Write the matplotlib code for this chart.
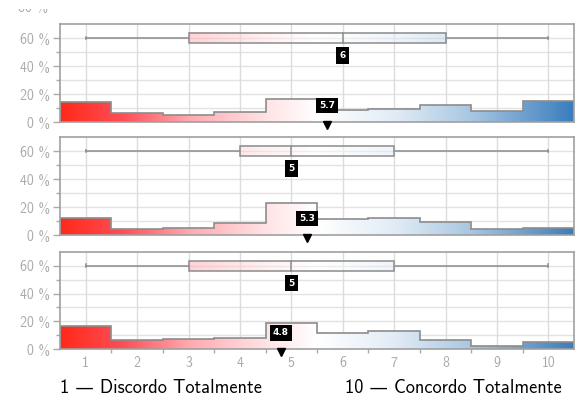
import numpy as np
import matplotlib
matplotlib.use("Agg")
import matplotlib.pyplot as plt
from matplotlib.colors import LinearSegmentedColormap
from matplotlib.patches import Rectangle

plt.rcParams['font.family'] = ['cmss10', 'DejaVu Sans']

# escala 1..10
categorias = [1, 2, 3, 4, 5, 6, 7, 8, 9, 10]

# distribuicao (%) de cada pergunta
hist_1 = [14.5, 6.4, 5.0, 6.9, 16.4, 8.6, 9.3, 12.4, 7.9, 14.8]
hist_2 = [11.9, 4.3, 5.2, 8.3, 22.9, 11.2, 11.9, 9.3, 4.3, 5.2]
hist_3 = [16.6, 6.4, 7.1, 8.1, 18.6, 11.9, 12.9, 6.4, 2.1, 5.0]

# boxplot: min, q1, mediana, q3, max
box_1 = [1, 3, 6, 8, 10]
box_2 = [1, 4, 5, 7, 10]
box_3 = [1, 3, 5, 7, 10]

medias = [5.7, 5.3, 4.8]

label_esq = "1 \u2014 Discordo Totalmente"
label_dir = "10 \u2014 Concordo Totalmente"

cmap = LinearSegmentedColormap.from_list("rdwb", [
    (0.0, '#ff2a1a'), (0.12, '#ff4d55'), (0.25, '#ffa9b0'), (0.4, '#ffe3e5'),
    (0.5, '#ffffff'), (0.65, '#e2ecf6'), (0.8, '#a9c7e2'), (1.0, '#3a7dbd')])

EDGE = '#8c8c8c'
TICK = '#aaaaaa'

fig = plt.figure(figsize=(5.85, 4.05), dpi=100)
left, width = 60 / 585, 514 / 585
panels = [(24, 122), (137, 235), (252, 349)]

x0, x1 = categorias[0] - 0.5, categorias[-1] + 0.5
edges = np.arange(x0, x1 + 0.01, 1.0)
grad = np.linspace(0, 1, 256).reshape(1, -1)

dados = [(hist_1, box_1), (hist_2, box_2), (hist_3, box_3)]
for i, ((top, bot), (hist, box), media) in enumerate(zip(panels, dados, medias)):
    ax = fig.add_axes([left, 1 - bot / 405, width, (bot - top) / 405])
    ax.set_xlim(x0, x1)
    ax.set_ylim(0, 70)

    # grade
    ax.set_yticks([0, 20, 40, 60])
    ax.set_yticks([10, 30, 50], minor=True)
    ax.set_yticklabels([f"{v} %" for v in [0, 20, 40, 60]])
    ax.set_xticks(categorias)
    ax.set_xticks(edges[1:-1], minor=True)
    for v in range(10, 70, 10):
        ax.axhline(v, color='#e3e3e3', lw=1, zorder=0)
    for c in categorias:
        ax.axvline(c, color='#dcdcdc', lw=1, zorder=0)

    # histograma com gradiente
    step = ax.stairs(hist, edges, fill=True, facecolor='none', edgecolor='none')
    im = ax.imshow(grad, cmap=cmap, extent=(x0, x1, 0, 70), aspect='auto',
                   origin='lower', zorder=1)
    im.set_clip_path(step)
    ax.stairs(hist, edges, color=EDGE, lw=1.2, zorder=2)

    # boxplot
    mn, q1, med, q3, mx = box
    yb, hb = 60, 3.6
    ax.plot([mn, q1], [yb, yb], color=EDGE, lw=1.1, zorder=3)
    ax.plot([q3, mx], [yb, yb], color=EDGE, lw=1.1, zorder=3)
    ax.plot([mn, mn], [yb - 1, yb + 1], color=EDGE, lw=1.1, zorder=3)
    ax.plot([mx, mx], [yb - 1, yb + 1], color=EDGE, lw=1.1, zorder=3)
    f0, f1 = (q1 - x0) / (x1 - x0), (q3 - x0) / (x1 - x0)
    gbox = np.linspace(f0, f1, 128).reshape(1, -1)
    ax.imshow(gbox, cmap=cmap, vmin=0, vmax=1, extent=(q1, q3, yb - hb, yb + hb),
              aspect='auto', origin='lower', alpha=0.5, zorder=3)
    ax.add_patch(Rectangle((q1, yb - hb), q3 - q1, 2 * hb, fc='none', ec=EDGE,
                           lw=1.1, zorder=4))
    ax.plot([med, med], [yb - hb, yb + hb], color=EDGE, lw=1.1, zorder=4)
    ax.text(med, 47.5, f"{med}", ha='center', va='center', color='white',
            fontsize=6.5, fontweight='bold', family='DejaVu Sans', zorder=6,
            bbox=dict(boxstyle='square,pad=0.4', fc='black', ec='none'))

    # media
    ax.plot([media], [-2.0], marker='v', color='black', ms=6, clip_on=False, zorder=6)
    ax.text(media, 11.6, f"{media}", ha='center', va='center', color='white',
            fontsize=6.5, fontweight='bold', family='DejaVu Sans', zorder=6,
            bbox=dict(boxstyle='square,pad=0.35', fc='black', ec='none'))

    for s in ax.spines.values():
        s.set_color('#a0a0a0')
        s.set_linewidth(1.2)
    ax.tick_params(axis='y', which='major', colors=TICK, length=5, width=1,
                   labelsize=10, labelcolor=TICK, pad=2)
    ax.tick_params(axis='y', which='minor', colors=TICK, length=3, width=1)
    ax.tick_params(axis='x', which='major', length=0, labelsize=10,
                   labelcolor=TICK, pad=5)
    ax.tick_params(axis='x', which='minor', colors=TICK, length=3, width=1)
    if i < 2:
        ax.tick_params(axis='x', which='both', labelbottom=False, length=0)

# rotulo 80 % cortado no topo
fig.text(33 / 585, 1 - 12 / 405, "80 %", ha='center', va='baseline',
         color=TICK, fontsize=10)
fig.add_artist(Rectangle((0, 1 - 9 / 405), 0.2, 9 / 405, transform=fig.transFigure,
                         fc='white', ec='none', zorder=10))

fig.text(left, 1 - 388 / 405, label_esq, ha='left', va='center', fontsize=13.2)
fig.text(562 / 585, 1 - 388 / 405, label_dir, ha='right', va='center', fontsize=13.2)

fig.savefig("out.png", dpi=100)
